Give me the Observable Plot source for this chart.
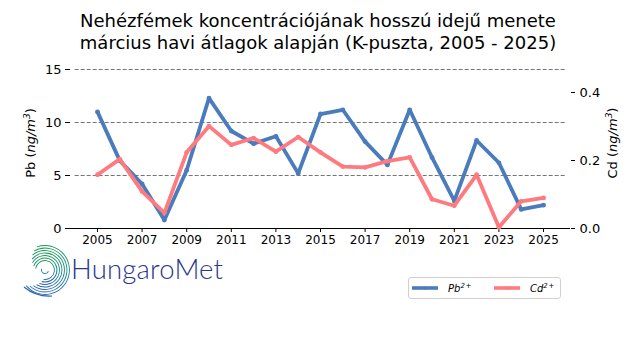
<!DOCTYPE html>
<html>
<head>
<meta charset="utf-8">
<script src="https://cdn.jsdelivr.net/npm/d3@7"></script>
<script src="https://cdn.jsdelivr.net/npm/@observablehq/plot@0.6"></script>
<style>
  html, body { margin: 0; padding: 0; background: #fff; }
  #wrap { position: relative; width: 640px; height: 360px; overflow: hidden; font-family: "DejaVu Sans", sans-serif; color: #000; }
  #title { position: absolute; left: 0; top: 10px; width: 636px; text-align: center; font-size: 18px; line-height: 22px; }
  #chart { position: absolute; left: 0; top: 60px; }
  .ylab { position: absolute; font-size: 13px; white-space: nowrap; transform-origin: center center; }
  .ylab sup { font-size: 9px; vertical-align: 5px; }
  #legend { position: absolute; left: 408px; top: 277px; width: 151px; height: 20px; border: 1px solid #d0d0d0; border-radius: 3px; font-size: 10px; }
  #legend .item { position: absolute; top: 2px; height: 16px; display: flex; align-items: center; }
  #legend sup { font-size: 7px; vertical-align: 4px; }
  #logo { position: absolute; left: 18px; top: 243px; }
  #logotext { position: absolute; left: 71px; top: 252px; font-family: "Lato", sans-serif; font-weight: 300; font-size: 27.5px; color: #2b3590; letter-spacing: 0.2px; }
</style>
</head>
<body>
<div id="wrap">
  <div id="title">Nehézfémek koncentrációjának hosszú idejű menete<br>március havi átlagok alapján (K-puszta, 2005 - 2025)</div>
  <div id="chart"></div>
  <div class="ylab" id="ylabL">Pb (<i>ng/m<sup>3</sup></i>)</div>
  <div class="ylab" id="ylabR">Cd (<i>ng/m<sup>3</sup></i>)</div>
  <svg id="logo" width="56" height="58" viewBox="0 0 56 58"></svg>
  <div id="logotext">HungaroMet</div>
  <div id="legend"></div>
</div>
<script>
const years = [2005, 2006, 2007, 2008, 2009, 2010, 2011, 2012, 2013, 2014, 2015, 2016, 2017, 2018, 2019, 2020, 2021, 2022, 2023, 2024, 2025];
const pb = [11.0, 6.4, 4.2, 0.8, 5.5, 12.3, 9.2, 8.0, 8.7, 5.2, 10.8, 11.2, 8.2, 6.0, 11.2, 6.7, 2.6, 8.3, 6.2, 1.8, 2.2];
const cd = [0.158, 0.204, 0.109, 0.046, 0.224, 0.301, 0.246, 0.266, 0.226, 0.269, 0.224, 0.182, 0.180, 0.198, 0.209, 0.086, 0.067, 0.158, 0.004, 0.080, 0.090];
const xTicks = [2005, 2007, 2009, 2011, 2013, 2015, 2017, 2019, 2021, 2023, 2025];
const leftTicks = [0, 5, 10, 15];
const rightTicks = [0, 0.2, 0.4];
const seriesNames = ["Pb", "Cd"];

const pbColor = "#4a7bbd";
const cdColor = "#ff7a7e";
const leftMax = 15, rightMax = 0.4676;
const k = leftMax / rightMax;

const rows = years.map((y, i) => ({year: y, pb: pb[i], cd: cd[i] * k}));

const chart = Plot.plot({
  width: 640,
  height: 200,
  marginTop: 9,
  marginBottom: 32,
  marginLeft: 70,
  marginRight: 70,
  style: {fontFamily: "DejaVu Sans, sans-serif", fontSize: "12px", color: "#000", background: "#fff"},
  x: {domain: [2003.79, 2026.21]},
  y: {domain: [0, leftMax]},
  marks: [
    Plot.gridY([5, 10, 15], {stroke: "#666", strokeOpacity: 1, strokeWidth: 0.9, strokeDasharray: "4,2", x1: 2004.0, x2: 2026.0}),
    Plot.ruleY([0], {stroke: "#000", strokeWidth: 1}),
    Plot.axisX({ticks: xTicks, tickFormat: d => String(d), tickSize: 4, tickPadding: 3, label: null}),
    Plot.axisY({anchor: "left", ticks: leftTicks, tickSize: 5, tickPadding: 4, label: null, fontSize: 13}),
    Plot.axisY({anchor: "right", ticks: rightTicks.map(v => v * k), tickFormat: d => (d / k).toFixed(1), tickSize: 4, tickPadding: 5, label: null, fontSize: 13}),
    Plot.line(rows, {x: "year", y: "pb", stroke: pbColor, strokeWidth: 3.8, strokeLinejoin: "round"}),
    Plot.dot(rows, {x: "year", y: "pb", fill: pbColor, r: 2.4}),
    Plot.line(rows, {x: "year", y: "cd", stroke: cdColor, strokeWidth: 3.8, strokeLinejoin: "round"}),
    Plot.dot(rows, {x: "year", y: "cd", fill: cdColor, r: 2.4})
  ]
});
document.getElementById("chart").appendChild(chart);

// axis labels (rotated)
function placeLabel(id, cx, cy) {
  const el = document.getElementById(id);
  const w = el.offsetWidth, h = el.offsetHeight;
  el.style.left = (cx - w / 2) + "px";
  el.style.top = (cy - h / 2) + "px";
  el.style.transform = "rotate(-90deg)";
}
placeLabel("ylabL", 30, 143);
placeLabel("ylabR", 612, 143);

// legend
const legend = document.getElementById("legend");
[[seriesNames[0], pbColor, 3], [seriesNames[1], cdColor, 85]].forEach(([name, col, x0]) => {
  const it = document.createElement("div");
  it.className = "item";
  it.style.left = x0 + "px";
  it.innerHTML = `<svg width="28" height="8" style="margin-right:8px"><line x1="0" x2="26" y1="4" y2="4" stroke="${col}" stroke-width="3.6"/><circle cx="13" cy="4" r="1.6" fill="${col}"/></svg><i>${name}<sup>2&#8202;+</sup></i>`;
  legend.appendChild(it);
});

// logo swirl
const logo = d3.select("#logo");
const defs = logo.append("defs");
const grad = defs.append("linearGradient").attr("id", "lg").attr("x1", 0).attr("y1", 0).attr("x2", 0).attr("y2", 1);
grad.append("stop").attr("offset", "0%").attr("stop-color", "#1a9a55");
grad.append("stop").attr("offset", "55%").attr("stop-color", "#178a8a");
grad.append("stop").attr("offset", "100%").attr("stop-color", "#2a64b0");
const cx = 27, cy = 27;
const radii = [9, 11.5, 14, 16.5, 19, 21.5, 24];
radii.forEach((r, i) => {
  const a0 = -Math.PI * 0.95 + i * 0.18;
  const a1 = Math.PI * 0.55 + i * 0.12;
  const arc = d3.arc()({innerRadius: r, outerRadius: r + 0.9, startAngle: a0 + Math.PI / 2, endAngle: a1 + Math.PI / 2});
  logo.append("path").attr("d", arc).attr("transform", `translate(${cx},${cy})`).attr("fill", "url(#lg)");
});
logo.append("path").attr("d", d3.arc()({innerRadius: 3, outerRadius: 4, startAngle: Math.PI * 0.6, endAngle: Math.PI * 1.6}))
  .attr("transform", `translate(${cx},${cy})`).attr("fill", "#1f7fa0");
logo.append("path").attr("d", "M6,44 Q18,54 34,53").attr("stroke", "#2a64b0").attr("stroke-width", 1.2).attr("fill", "none");
</script>
</body>
</html>
